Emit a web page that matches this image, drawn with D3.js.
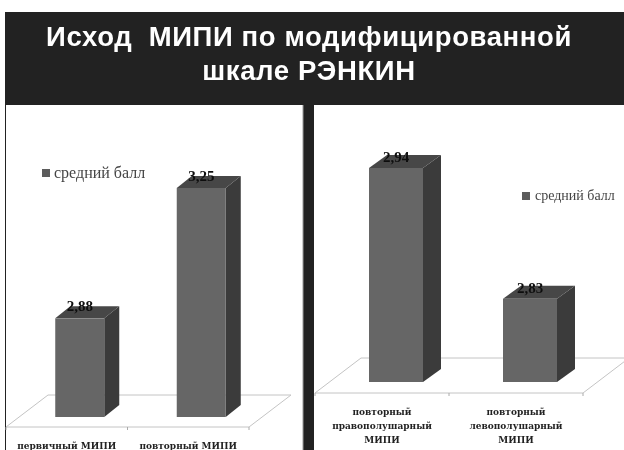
<!DOCTYPE html>
<html><head><meta charset="utf-8">
<script src="https://cdn.jsdelivr.net/npm/d3@7/dist/d3.min.js"></script>
<style>html,body{margin:0;padding:0;background:#fff;overflow:hidden}svg{display:block}</style>
</head><body><svg id="c" width="624" height="450"></svg>
<script>
const titleLines = ["Исход  МИПИ по модифицированной", "шкале РЭНКИН"];
const seriesName = "средний балл";
const leftCategories = [["первичный МИПИ"], ["повторный МИПИ"]];
const leftValues = [2.88, 3.25];
const rightCategories = [["повторный","правополушарный","МИПИ"], ["повторный","левополушарный","МИПИ"]];
const rightValues = [2.94, 2.83];

const svg = d3.select("#c");
const defs = svg.append("defs");
defs.append("filter").attr("id","soft").append("feGaussianBlur").attr("stdDeviation",0.55);
const root = svg.append("g").attr("filter","url(#soft)");

root.append("rect").attr("x",5).attr("y",12).attr("width",619).attr("height",438).attr("fill","#222");
root.append("rect").attr("x",6).attr("y",105).attr("width",297).attr("height",345).attr("fill","#fff");
root.append("rect").attr("x",314).attr("y",105).attr("width",310).attr("height",345).attr("fill","#fff");
root.append("line").attr("x1",303).attr("x2",303).attr("y1",105).attr("y2",450).attr("stroke","#999");

root.selectAll("text.title").data(titleLines).join("text").attr("class","title")
  .attr("x",309).attr("y",(d,i)=>46+i*34).attr("text-anchor","middle")
  .attr("font-family","Liberation Sans").attr("font-weight","bold").attr("font-size",27.5)
  .attr("letter-spacing",0.6).attr("fill","#fff").style("white-space","pre").text(d=>d);

function panel(o){
  const g = root.append("g");
  const x = d3.scaleBand().domain(o.cats.map((d,i)=>i)).range([o.x0,o.x1]);
  const y = d3.scaleLinear().domain(o.domain).range([o.base,o.top]);
  g.append("path").attr("fill","none").attr("stroke","#c4c4c4").attr("stroke-width",1)
    .attr("d",d3.line()([[o.x0,o.floorF],[o.x0+o.floorDx,o.floorB],[o.x1+o.floorDx,o.floorB],[o.x1,o.floorF],[o.x0,o.floorF]]));
  [o.x0,(o.x0+o.x1)/2,o.x1].forEach(t=>g.append("line").attr("x1",t).attr("x2",t).attr("y1",o.floorF).attr("y2",o.floorF+3).attr("stroke","#aaa"));

  const bx = i => x(i)+x.bandwidth()/2+o.shift-o.w/2;
  const bars = g.selectAll("g.bar").data(o.vals).join("g").attr("class","bar");
  bars.append("path").attr("fill","#3a3a3a")
    .attr("d",(d,i)=>{const a=bx(i)+o.w;return d3.line()([[a,y(d)],[a+o.dx,y(d)-o.dy],[a+o.dx,o.base-o.dy],[a,o.base]]);});
  bars.append("path").attr("fill","#474747")
    .attr("d",(d,i)=>{const a=bx(i);return d3.line()([[a,y(d)],[a+o.dx,y(d)-o.dy],[a+o.w+o.dx,y(d)-o.dy],[a+o.w,y(d)]]);});
  bars.append("rect").attr("fill","#666").attr("x",(d,i)=>bx(i)).attr("y",d=>y(d)).attr("width",o.w).attr("height",d=>o.base-y(d));
  bars.append("text").attr("x",(d,i)=>bx(i)+o.w/2).attr("y",d=>y(d)-o.labelUp)
    .attr("text-anchor","middle").attr("font-family","Liberation Serif").attr("font-weight","bold")
    .attr("font-size",15).attr("fill","#111").text(d=>d3.format(".2f")(d).replace(".",","));

  o.cats.forEach((lines,i)=>{
    g.selectAll(null).data(lines).join("text")
      .attr("x",x(i)+x.bandwidth()/2).attr("y",(d,k)=>o.catY+k*14).attr("text-anchor","middle")
      .attr("font-family","DejaVu Serif").attr("font-weight","bold").attr("font-size",o.catSize)
      .attr("fill","#222").text(d=>d);
  });
  g.append("rect").attr("x",o.lx).attr("y",o.ly-o.ls/2).attr("width",o.ls).attr("height",o.ls).attr("fill","#5c5c5c");
  g.append("text").attr("x",o.lx+o.ls+o.lgap).attr("y",o.ly+o.lfs*0.3).attr("font-family","Liberation Serif")
    .attr("font-size",o.lfs).attr("fill","#444").text(seriesName);
}

panel({cats:leftCategories,vals:leftValues,x0:6,x1:249,domain:[2.6,3.25],base:417,top:188,
  floorF:427,floorB:395,floorDx:42,shift:13,w:49,dx:15,dy:12,labelUp:7,
  catY:449,catSize:9,lx:42,ly:173,ls:8,lgap:4,lfs:16});
panel({cats:rightCategories,vals:rightValues,x0:315,x1:583,domain:[2.76,2.94],base:382,top:168,
  floorF:393,floorB:358,floorDx:46,shift:14,w:54,dx:18,dy:13,labelUp:6,
  catY:415,catSize:9,lx:522,ly:196,ls:8,lgap:5,lfs:14});
</script></body></html>
